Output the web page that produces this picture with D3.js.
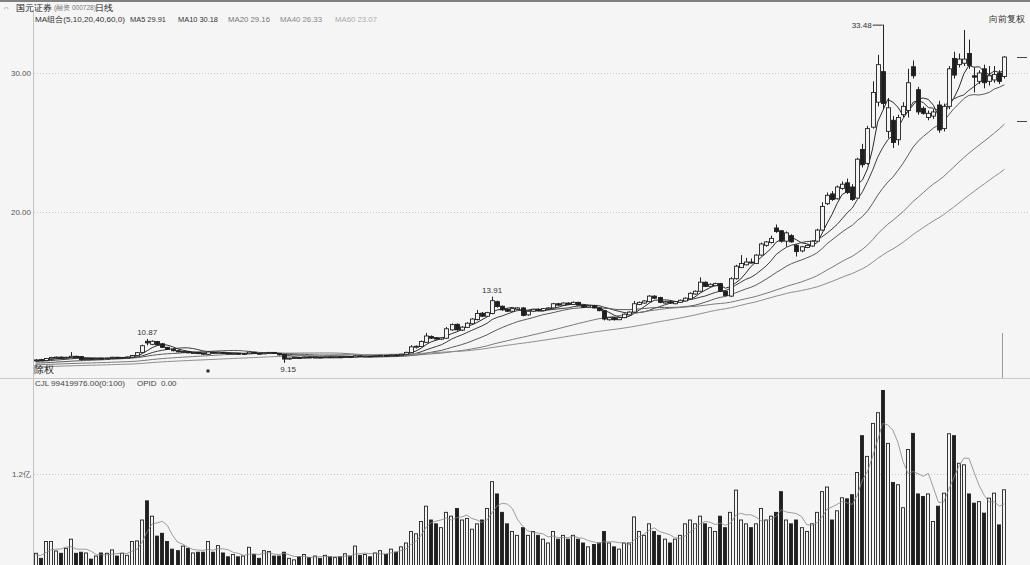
<!DOCTYPE html>
<html><head><meta charset="utf-8">
<script src="https://cdn.jsdelivr.net/npm/d3@7"></script>
<style>
body{margin:0;background:#f5f5f5;}
svg{display:block;}
text{font-family:"Liberation Sans","DejaVu Sans",sans-serif;}
</style></head><body>
<svg id="chart" width="1030" height="565"></svg>
<script>
// Daily OHLC (yuan, forward-adjusted) and volume (millions of shares)
const opens=[9.30,9.38,9.32,9.44,9.52,9.56,9.48,9.52,9.62,9.60,
9.40,9.46,9.42,9.48,9.43,9.48,9.55,9.50,9.53,9.56,
9.68,9.90,10.70,10.48,10.68,10.52,10.26,10.12,10.02,9.90,
9.96,9.84,9.90,9.84,9.76,9.92,9.84,9.91,9.85,9.79,
9.84,9.77,9.80,9.91,9.84,9.79,9.85,9.90,9.82,9.74,
9.42,9.48,9.53,9.51,9.57,9.52,9.56,9.53,9.58,9.55,
9.58,9.56,9.61,9.57,9.66,9.60,9.64,9.61,9.66,9.69,
9.65,9.72,9.69,9.76,9.88,10.28,10.32,10.62,11.05,10.96,
10.85,10.92,11.52,11.92,11.50,11.70,11.96,12.26,12.72,12.50,
12.70,13.55,13.22,13.00,12.86,13.00,13.10,12.60,12.86,13.00,
12.90,13.02,13.10,13.40,13.30,13.45,13.35,13.50,13.30,13.15,
13.25,13.10,12.90,12.25,12.40,12.25,12.40,12.60,12.80,13.35,
13.45,13.55,13.95,13.85,13.45,13.55,13.40,13.50,13.60,13.75,
14.10,14.30,14.95,14.65,14.70,14.85,14.30,13.95,15.20,16.00,
16.20,16.40,16.30,16.90,17.60,17.80,18.85,18.65,17.90,18.30,
17.60,17.20,17.45,17.55,17.90,18.70,20.60,21.30,20.95,21.70,
22.10,21.80,21.00,24.50,23.50,26.10,27.90,30.10,25.80,26.60,
25.20,27.00,27.30,30.45,28.80,27.46,26.80,26.90,27.70,26.00,
27.60,31.05,30.60,30.70,31.40,29.80,29.40,30.30,29.40,29.50,
30.00,29.75];
const highs=[9.42,9.44,9.50,9.58,9.60,9.60,9.58,9.92,9.66,9.64,
9.50,9.50,9.50,9.52,9.52,9.58,9.58,9.57,9.60,9.72,
9.92,10.45,10.87,10.76,10.72,10.58,10.30,10.16,10.06,10.00,
9.99,9.92,9.93,9.86,9.98,9.95,9.96,9.94,9.88,9.86,
9.86,9.84,9.96,9.94,9.86,9.90,9.93,9.92,9.84,9.78,
9.52,9.55,9.58,9.60,9.60,9.58,9.59,9.60,9.62,9.60,
9.62,9.63,9.64,9.70,9.68,9.66,9.67,9.68,9.72,9.72,
9.74,9.76,9.80,9.95,10.42,10.40,10.75,11.30,11.12,11.00,
11.00,11.72,11.98,11.98,11.78,12.06,12.36,12.95,12.80,12.82,
13.91,13.62,13.28,13.06,13.10,13.16,13.14,12.90,13.04,13.06,
13.08,13.14,13.46,13.46,13.50,13.50,13.56,13.54,13.34,13.30,
13.28,13.14,12.94,12.44,12.44,12.44,12.70,12.86,13.60,13.56,
13.66,14.02,14.00,13.90,13.60,13.60,13.60,13.70,13.86,14.22,
14.36,15.30,15.00,14.86,14.92,14.90,14.36,15.30,16.20,16.90,
16.70,16.66,16.96,17.80,17.90,18.30,19.10,18.70,18.60,18.40,
17.70,17.56,17.66,17.96,18.80,20.70,21.40,21.50,21.90,22.20,
22.40,22.00,23.90,24.90,26.20,29.40,31.30,33.48,28.20,26.90,
27.00,27.90,30.30,30.90,29.00,27.60,27.30,27.40,28.00,27.80,
30.50,31.53,31.40,33.10,32.40,30.40,30.20,30.60,30.50,30.50,
30.20,31.20];
const lows=[9.22,9.28,9.30,9.40,9.46,9.45,9.44,9.50,9.50,9.30,
9.36,9.40,9.40,9.40,9.41,9.46,9.47,9.48,9.50,9.54,
9.64,9.85,10.40,10.42,10.40,10.22,10.08,9.98,9.90,9.86,
9.84,9.81,9.78,9.74,9.74,9.82,9.82,9.80,9.78,9.76,
9.75,9.75,9.78,9.80,9.77,9.77,9.83,9.80,9.68,9.15,
9.38,9.45,9.48,9.49,9.50,9.50,9.50,9.51,9.53,9.52,
9.54,9.54,9.55,9.55,9.58,9.58,9.58,9.59,9.62,9.62,
9.63,9.66,9.67,9.74,9.86,10.18,10.28,10.58,10.86,10.80,
10.80,10.88,11.46,11.46,11.44,11.66,11.90,12.20,12.44,12.44,
12.64,13.12,12.90,12.80,12.82,12.96,12.50,12.54,12.80,12.86,
12.86,12.98,13.06,13.26,13.26,13.30,13.32,13.26,13.10,13.12,
13.06,12.86,12.20,12.18,12.20,12.22,12.36,12.56,12.76,13.30,
13.40,13.50,13.74,13.44,13.40,13.40,13.36,13.46,13.56,13.70,
14.04,14.26,14.60,14.60,14.66,14.24,13.92,13.90,15.14,15.96,
16.16,16.30,16.26,16.86,17.50,17.74,18.50,17.80,17.50,17.80,
16.80,17.10,17.40,17.50,17.86,18.66,20.50,20.80,20.90,21.60,
21.30,20.80,20.96,23.20,23.40,26.00,27.60,27.40,25.30,24.60,
24.80,26.80,26.80,29.60,27.00,27.00,26.60,26.70,25.70,25.80,
27.40,29.60,30.40,30.50,30.30,28.60,29.20,28.90,29.10,29.30,
29.20,29.60];
const closes=[9.36,9.32,9.46,9.54,9.56,9.48,9.55,9.62,9.54,9.38,
9.46,9.42,9.47,9.43,9.49,9.55,9.50,9.54,9.57,9.68,
9.88,10.38,10.58,10.70,10.44,10.26,10.12,10.02,9.94,9.97,
9.87,9.89,9.81,9.78,9.93,9.85,9.92,9.83,9.80,9.84,
9.78,9.82,9.92,9.83,9.80,9.87,9.90,9.82,9.72,9.42,
9.49,9.53,9.51,9.57,9.52,9.56,9.53,9.58,9.55,9.58,
9.56,9.61,9.57,9.66,9.60,9.64,9.61,9.66,9.69,9.65,
9.72,9.69,9.77,9.90,10.30,10.34,10.68,11.08,10.92,10.86,
10.95,11.60,11.90,11.52,11.72,12.00,12.30,12.70,12.50,12.76,
13.62,13.20,12.96,12.86,13.05,13.10,12.56,12.86,13.00,12.90,
13.05,13.10,13.40,13.30,13.45,13.35,13.50,13.30,13.15,13.25,
13.10,12.90,12.30,12.40,12.25,12.40,12.65,12.80,13.40,13.50,
13.60,13.95,13.80,13.50,13.55,13.45,13.55,13.65,13.80,14.15,
14.30,14.95,14.65,14.80,14.85,14.30,14.00,15.20,16.10,16.30,
16.40,16.35,16.90,17.70,17.85,18.10,18.60,17.90,18.50,17.85,
17.15,17.50,17.60,17.90,18.70,20.40,21.20,20.90,21.80,22.00,
21.40,20.90,23.80,23.40,26.00,28.60,30.60,27.80,27.50,25.00,
26.80,27.60,29.30,29.80,27.20,27.10,27.10,27.20,25.90,27.60,
30.30,29.85,31.00,31.00,30.55,29.70,30.00,29.30,29.80,29.90,
29.40,31.15];
const volumes=[16.6,10,32,32,19.6,16.6,23,35,16.6,18,
17,9,13,17,16.6,21,13,16.6,14,32,
32.7,60,85,65,39,42.7,32,22,20,26,
23,17,18,18,32,18,26.6,17,12,15,
12,13,24.4,15,10,20,19,13,13,18,
10,8,12,15,11,13,10,14,12,11,
12,16,13,26,14,15,12,17,20,15,
22,18,25,30,45,42,58,78,60,55,
50,70,65,75,60,62,48,55,60,75,
110,94,70,55,45,40,50,40,45,40,
35,30,45,35,40,35,40,35,30,25,
28,30,45,30,25,22,30,30,64,45,
40,55,45,40,35,30,35,40,55,60,
55,65,55,50,45,65,50,70,99,60,
55,50,55,75,60,65,70,97,60,55,
60,50,45,55,70,97,103,60,72,89,
87.6,93,122,170,143,186,200,231,160,109,
106,76,152,173,94,90.6,94,58,78,95,
172.5,170,134,132,94,82,84,69,88.5,95,
53.6,99.419976];

// Moving averages: periods, level carried in before the first session, line greys
const maPeriods=[5,10,20,40,60];
const maSeeds=[9.30,9.25,9.12,9.00,8.85];
const maColors=["#2a2a2a","#3c3c3c","#5a5a5a","#7a7a7a","#8e8e8e"];
const volMaPeriod=5, volMaSeed=14;

const priceTicks=[20,30];
const priceTickLabels=["20.00","30.00"];
const volTicks=[120];
const volTickLabels=["1.2亿"];

const W=1030,H=565,N=closes.length;
const svg=d3.select("#chart");
const bg="#f5f5f5";
svg.append("rect").attr("width",W).attr("height",H).attr("fill",bg);

const x=d3.scaleBand().domain(d3.range(N)).range([33,1007]).paddingInner(0.2).paddingOuter(0.1);
const bw=x.bandwidth(), cx=i=>x(i)+bw/2;
const y=d3.scaleLinear().domain([20,30]).range([212,73]);
const yv=d3.scaleLinear().domain([0,120]).range([566,474]);

function movingAvg(arr,n,seed){
  return arr.map((_,i)=>{let s=0;for(let j=i-n+1;j<=i;j++)s+=(j<0?seed:arr[j]);return s/n;});
}

// frame
svg.append("rect").attr("x",0).attr("y",0).attr("width",W).attr("height",2).attr("fill","#808080");
svg.append("line").attr("x1",33.5).attr("x2",33.5).attr("y1",12).attr("y2",H).attr("stroke","#c4c4c4");
svg.append("line").attr("x1",0).attr("x2",W).attr("y1",378.5).attr("y2",378.5).attr("stroke","#c8c8c8");

// grid + tick labels
const gP=svg.append("g");
priceTicks.forEach((t,k)=>{
  gP.append("line").attr("x1",34).attr("x2",W).attr("y1",Math.round(y(t))+0.5).attr("y2",Math.round(y(t))+0.5)
    .attr("stroke","#c6c6c6").attr("stroke-dasharray","1,2");
  gP.append("text").attr("x",31).attr("y",y(t)+3).attr("text-anchor","end").attr("font-size",8)
    .attr("fill","#555").text(priceTickLabels[k]);
});
volTicks.forEach((t,k)=>{
  gP.append("line").attr("x1",34).attr("x2",W).attr("y1",Math.round(yv(t))+0.5).attr("y2",Math.round(yv(t))+0.5)
    .attr("stroke","#c6c6c6").attr("stroke-dasharray","1,2");
  gP.append("text").attr("x",31).attr("y",yv(t)+3).attr("text-anchor","end").attr("font-size",8)
    .attr("fill","#555").text(volTickLabels[k]);
});
// right-edge marks
[57,121].forEach(v=>svg.append("line").attr("x1",1017).attr("x2",1027).attr("y1",v+0.5).attr("y2",v+0.5).attr("stroke","#444"));
svg.append("line").attr("x1",1002.5).attr("x2",1002.5).attr("y1",333).attr("y2",378).attr("stroke","#999");

// clips
const defs=svg.append("defs");
defs.append("clipPath").attr("id","cp").append("rect").attr("x",34).attr("y",12).attr("width",W-34).attr("height",366);
defs.append("clipPath").attr("id","cv").append("rect").attr("x",34).attr("y",390).attr("width",W-34).attr("height",H-390);

// MA lines
const gMA=svg.append("g").attr("clip-path","url(#cp)");
maPeriods.forEach((p,k)=>{
  const ma=movingAvg(closes,p,maSeeds[k]);
  gMA.append("path").datum(ma).attr("fill","none").attr("stroke",maColors[k]).attr("stroke-width",1)
    .attr("d",d3.line().x((d,i)=>cx(i)).y(d=>y(d)));
});

// candles
const gC=svg.append("g").attr("clip-path","url(#cp)");
const idx=d3.range(N);
const up=i=>closes[i]>=opens[i];
gC.selectAll("line.w").data(idx).join("line")
  .attr("x1",i=>Math.round(cx(i))+0.5).attr("x2",i=>Math.round(cx(i))+0.5)
  .attr("y1",i=>y(highs[i])).attr("y2",i=>y(lows[i])).attr("stroke","#222").attr("stroke-width",1);
gC.selectAll("rect.b").data(idx).join("rect")
  .attr("x",i=>Math.round(cx(i))-1.5).attr("width",4)
  .attr("y",i=>y(Math.max(opens[i],closes[i])))
  .attr("height",i=>Math.max(1,Math.abs(y(opens[i])-y(closes[i]))))
  .attr("fill",i=>up(i)?bg:"#1e1e1e").attr("stroke","#222").attr("stroke-width",0.9);

// volume bars
const gV=svg.append("g").attr("clip-path","url(#cv)");
gV.selectAll("rect").data(idx).join("rect")
  .attr("x",i=>Math.round(x(i))+0.5).attr("width",Math.round(bw)-1)
  .attr("y",i=>yv(volumes[i])).attr("height",i=>yv(0)-yv(volumes[i]))
  .attr("fill",i=>up(i)?bg:"#1e1e1e").attr("stroke","#222").attr("stroke-width",0.9);
gV.append("path").datum(movingAvg(volumes,volMaPeriod,volMaSeed)).attr("fill","none")
  .attr("stroke","#858585").attr("stroke-width",0.8)
  .attr("d",d3.line().x((d,i)=>cx(i)).y(d=>yv(d)));

// extreme labels
const iMax=d3.maxIndex(highs), iMin=d3.minIndex(lows);
svg.append("line").attr("x1",cx(iMax)-10).attr("x2",cx(iMax)).attr("y1",y(highs[iMax])+0.5).attr("y2",y(highs[iMax])+0.5).attr("stroke","#333");
svg.append("text").attr("x",cx(iMax)-11).attr("y",y(highs[iMax])+3).attr("text-anchor","end").attr("font-size",8).attr("fill","#333").text(highs[iMax].toFixed(2));
svg.append("text").attr("x",cx(iMin)+4).attr("y",y(lows[iMin])+9).attr("text-anchor","middle").attr("font-size",8).attr("fill","#333").text(lows[iMin].toFixed(2));
[22,90].forEach(i=>{
  svg.append("text").attr("x",cx(i)).attr("y",y(highs[i])-4).attr("text-anchor","middle").attr("font-size",8).attr("fill","#333").text(highs[i].toFixed(2));
});
svg.append("text").attr("x",34).attr("y",373).attr("font-size",10).attr("fill","#222").attr("font-family","Noto Sans CJK SC").text("除权");
svg.append("circle").attr("cx",208).attr("cy",371).attr("r",1.8).attr("fill","#333");

// header texts
const cjk='"Noto Sans CJK SC",sans-serif';
svg.append("text").attr("x",3).attr("y",10).attr("font-size",7).attr("fill","#666").text("⇔");
svg.append("text").attr("x",16).attr("y",11).attr("font-size",9).attr("fill","#222").attr("font-family",cjk).text("国元证券");
svg.append("text").attr("x",54).attr("y",10).attr("font-size",6.5).attr("fill","#777").attr("font-family",cjk).text("(融资 000728)");
svg.append("text").attr("x",95).attr("y",11).attr("font-size",9).attr("fill","#222").attr("font-family",cjk).text("日线");
svg.append("text").attr("x",35).attr("y",22).attr("font-size",8).attr("fill","#333").attr("font-family",cjk)
  .attr("textLength",90).attr("lengthAdjust","spacingAndGlyphs").text("MA组合(5,10,20,40,60,0)");
const maNow=maPeriods.map((p,k)=>movingAvg(closes,p,maSeeds[k])[N-1]);
const maHdrX=[130,178,228,280,335];
const maHdrW=[36,40,42,42,42];
const maHdrCol=["#333","#333","#777","#888","#aaa"];
maPeriods.forEach((p,k)=>{
  svg.append("text").attr("x",maHdrX[k]).attr("y",22).attr("font-size",8).attr("fill",maHdrCol[k])
    .attr("textLength",maHdrW[k]).attr("lengthAdjust","spacingAndGlyphs")
    .text(`MA${p} ${maNow[k].toFixed(2)}`);
});
svg.append("text").attr("x",1025).attr("y",22).attr("text-anchor","end").attr("font-size",9).attr("fill","#333").attr("font-family",cjk).text("向前复权");
svg.append("text").attr("x",35).attr("y",386).attr("font-size",8).attr("fill","#444").text("CJL");
svg.append("text").attr("x",51).attr("y",386).attr("font-size",8).attr("fill","#444")
  .attr("textLength",74).attr("lengthAdjust","spacingAndGlyphs")
  .text(`${(volumes[N-1]*1e6).toFixed(2)}(0:100)`);
svg.append("text").attr("x",137).attr("y",386).attr("font-size",8).attr("fill","#444").text("OPID");
svg.append("text").attr("x",161).attr("y",386).attr("font-size",8).attr("fill","#444").text("0.00");
</script>
</body></html>
